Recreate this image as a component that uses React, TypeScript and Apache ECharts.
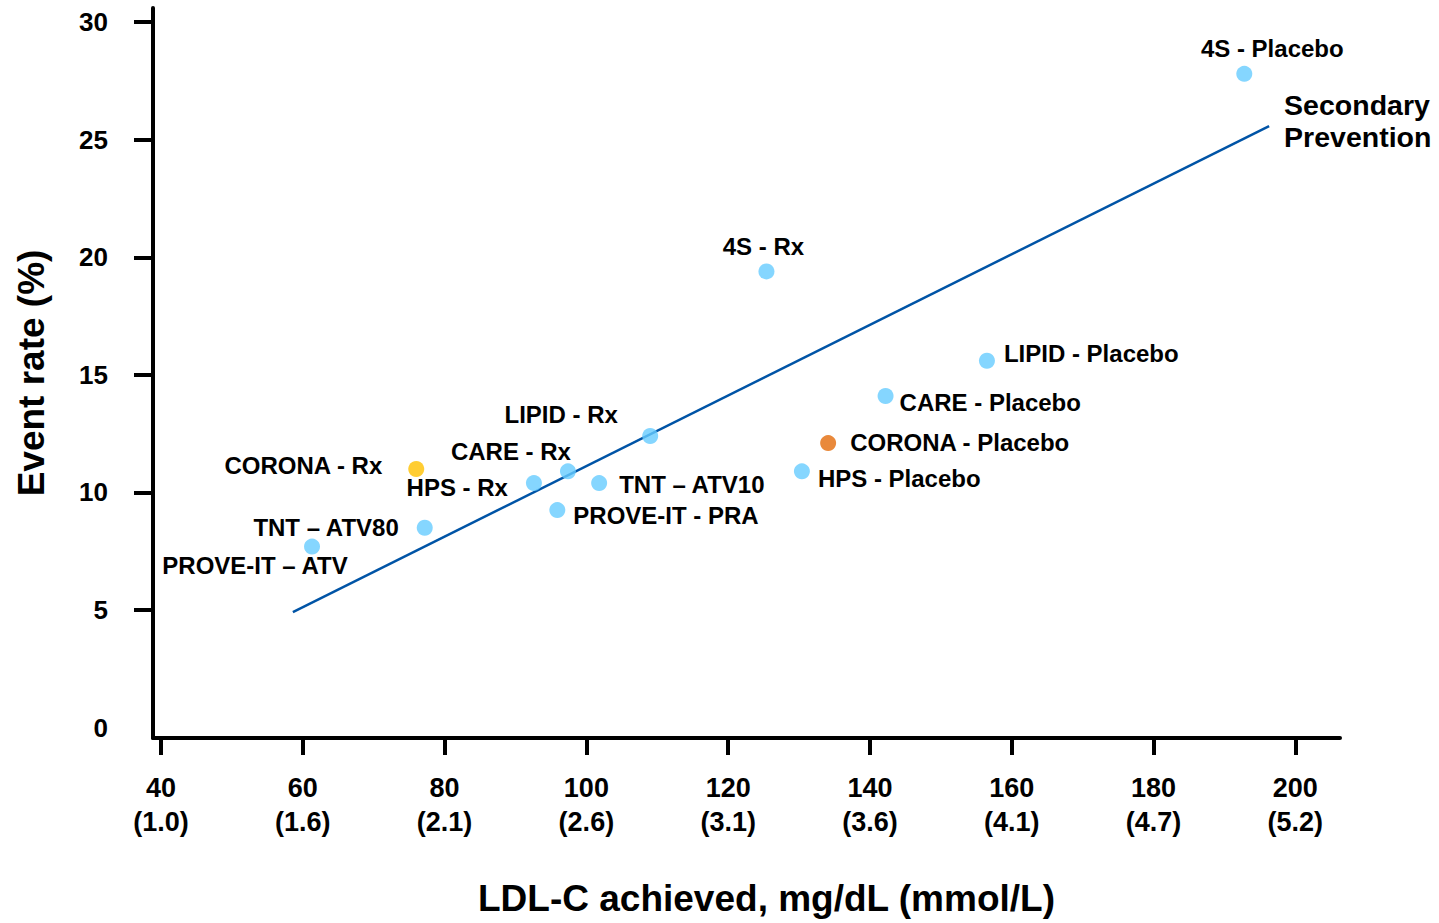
import React, { useEffect, useRef } from "react";
import * as echarts from "echarts";

// ---------- data ----------
const trialNames = [
  "4S - Placebo",
  "4S - Rx",
  "LIPID - Placebo",
  "CARE - Placebo",
  "CORONA - Placebo",
  "HPS - Placebo",
  "LIPID - Rx",
  "CARE - Rx",
  "HPS - Rx",
  "TNT – ATV10",
  "PROVE-IT - PRA",
  "CORONA - Rx",
  "TNT – ATV80",
  "PROVE-IT – ATV",
];
const ldlAchieved = [192.8, 125.4, 156.5, 142.2, 134.1, 130.4, 109.0, 97.4, 92.6, 101.8, 95.9, 76.0, 77.2, 61.3];
const eventRate = [27.8, 19.4, 15.6, 14.1, 12.1, 10.9, 12.4, 10.9, 10.4, 10.4, 9.25, 11.0, 8.5, 7.7];

const trendLdl = [58.6, 196.3];
const trendRate = [4.91, 25.58];
const trendName = "Secondary\nPrevention";

const xTickValues = [40, 60, 80, 100, 120, 140, 160, 180, 200];
const xTickMmol = ["(1.0)", "(1.6)", "(2.1)", "(2.6)", "(3.1)", "(3.6)", "(4.1)", "(4.7)", "(5.2)"];
const yLabelValues = [0, 5, 10, 15, 20, 25, 30];
const yTickValues = [5, 10, 15, 20, 25, 30];

const xTitle = "LDL-C achieved, mg/dL (mmol/L)";
const yTitle = "Event rate (%)";

// ---------- styles ----------
const BLUE = "#66CCFF";
const ORANGE = "#E36C0A";
const YELLOW = "#FFC000";
const LINE = "#0054A6";
const FONT = "'Liberation Sans', Arial, Helvetica, sans-serif";

const pointStyle: Record<string, { pos: string; off: number[]; color: string }> = {
  "4S - Placebo": { pos: "top", off: [28, 0], color: BLUE },
  "4S - Rx": { pos: "top", off: [-3, 0], color: BLUE },
  "LIPID - Placebo": { pos: "right", off: [4, -7], color: BLUE },
  "CARE - Placebo": { pos: "right", off: [1, 6], color: BLUE },
  "CORONA - Placebo": { pos: "right", off: [9, -1], color: ORANGE },
  "HPS - Placebo": { pos: "right", off: [3, 7], color: BLUE },
  "LIPID - Rx": { pos: "top", off: [-89, 3], color: BLUE },
  "CARE - Rx": { pos: "top", off: [-57, 5], color: BLUE },
  "HPS - Rx": { pos: "left", off: [-13, 4], color: BLUE },
  "TNT – ATV10": { pos: "right", off: [7, 1], color: BLUE },
  "PROVE-IT - PRA": { pos: "right", off: [3, 5], color: BLUE },
  "CORONA - Rx": { pos: "left", off: [-21, -3], color: YELLOW },
  "TNT – ATV80": { pos: "left", off: [-13, 0], color: BLUE },
  "PROVE-IT – ATV": { pos: "bottom", off: [-57, -6], color: BLUE },
};

export default function App() {
  const ref = useRef<HTMLDivElement>(null);

  useEffect(() => {
    if (!ref.current) return;
    const chart = echarts.init(ref.current, undefined, { renderer: "svg" });

    const scatterData = trialNames.map((name, i) => {
      const st = pointStyle[name];
      return {
        name,
        value: [ldlAchieved[i], eventRate[i]],
        itemStyle: { color: st.color },
        label: { position: st.pos },
      };
    });

    const option: any = {
      animation: false,
      backgroundColor: "#ffffff",
      grid: { left: 153, right: 99, top: 8, bottom: 185, containLabel: false },
      xAxis: {
        type: "value",
        min: 38.87,
        max: 206.3,
        name: xTitle,
        nameLocation: "middle",
        nameGap: 142,
        nameTextStyle: {
          fontFamily: FONT,
          fontWeight: "bold",
          fontSize: 37,
          color: "#000",
          padding: [0, 0, 0, 40],
        },
        axisLine: { show: true, onZero: false, lineStyle: { color: "#000", width: 4 } },
        axisTick: { show: true, length: 17, customValues: xTickValues, lineStyle: { color: "#000", width: 4 } },
        axisLabel: {
          customValues: xTickValues,
          margin: 33,
          fontFamily: FONT,
          fontWeight: "bold",
          fontSize: 27,
          lineHeight: 34,
          color: "#000",
          formatter: (v: number) => {
            const idx = xTickValues.indexOf(Math.round(v));
            return idx >= 0 ? `${xTickValues[idx]}\n${xTickMmol[idx]}` : "";
          },
        },
        splitLine: { show: false },
      },
      yAxis: {
        type: "value",
        min: -0.44,
        max: 30.6,
        name: yTitle,
        nameLocation: "middle",
        nameGap: 103,
        nameRotate: 90,
        nameTextStyle: { fontFamily: FONT, fontWeight: "bold", fontSize: 37, color: "#000" },
        axisLine: { show: true, onZero: false, lineStyle: { color: "#000", width: 4 } },
        axisTick: { show: true, length: 19, customValues: yTickValues, lineStyle: { color: "#000", width: 4 } },
        axisLabel: {
          customValues: yLabelValues,
          margin: 45,
          fontFamily: FONT,
          fontWeight: "bold",
          fontSize: 26,
          color: "#000",
        },
        splitLine: { show: false },
      },
      series: [
        {
          type: "line",
          data: trendLdl.map((x, i) => [x, trendRate[i]]),
          symbol: "none",
          silent: true,
          lineStyle: { color: LINE, width: 2.5 },
          z: 1,
          endLabel: {
            show: true,
            formatter: () => trendName,
            fontFamily: FONT,
            fontWeight: "bold",
            fontSize: 28.5,
            lineHeight: 32,
            color: "#000",
            align: "left",
            distance: 10,
            offset: [5, -5],
          },
        },
        {
          type: "scatter",
          symbol: "circle",
          symbolSize: 16,
          data: scatterData,
          z: 3,
          label: {
            show: true,
            formatter: (p: any) => p.name,
            fontFamily: FONT,
            fontWeight: "bold",
            fontSize: 24,
            color: "#000",
            opacity: 1,
          },
          labelLayout: (params: any) => {
            const st = pointStyle[trialNames[params.dataIndex]];
            return { dx: st.off[0], dy: st.off[1], hideOverlap: false };
          },
        },
      ],
    };

    chart.setOption(option);
    return () => chart.dispose();
  }, []);

  return (
    <div
      ref={ref}
      style={{ position: "absolute", left: 0, top: 0, width: 1439, height: 923, background: "#fff" }}
    />
  );
}
